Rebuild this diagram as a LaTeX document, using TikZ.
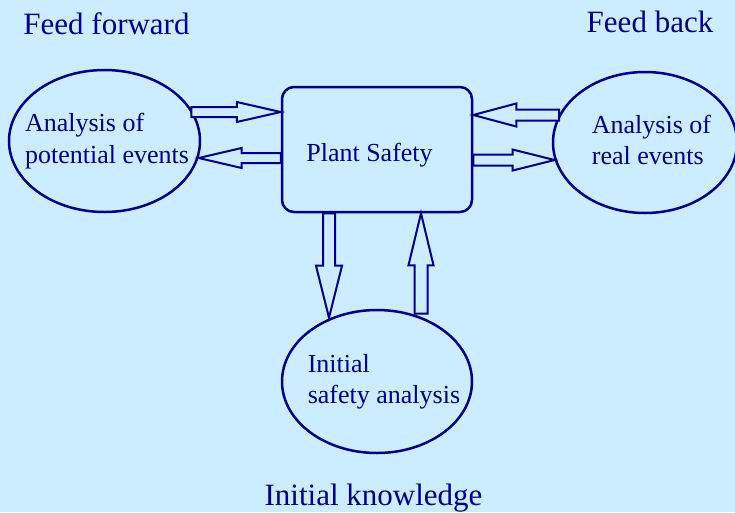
\documentclass[tikz,border=0pt]{standalone}
\usepackage{fontspec}
\setmainfont{Liberation Serif}
\usetikzlibrary{calc, shapes.geometric}
\definecolor{bgblue}{HTML}{CCECFF}
\definecolor{navy}{HTML}{000080}
\tikzset{
  plain/.style    = {draw=navy, line width=2.5pt, text=navy, inner sep=0pt,
                     font=\fontsize{26}{31.5}\selectfont},
  sbox/.style     = {plain, rectangle, rounded corners=12pt,
                     minimum width=190pt, minimum height=125pt},
  eventell/.style = {plain, ellipse, minimum width=191pt, minimum height=142pt},
  heading/.style  = {text=navy, inner sep=0pt, anchor=base,
                     font=\fontsize{31}{37}\selectfont},
  blockarr/.style = {draw=navy, fill=bgblue, line width=2pt, line join=miter},
}
% two left-aligned lines, kept out of the ellipse size
\newcommand{\evtext}[3][0pt]{\makebox[0pt]{\hspace*{#1}%
  \begin{tabular}{@{}l@{}}#2\\#3\end{tabular}}}
% hollow block arrow: from, to, shaft half width, head half width, head length
\newcommand{\blockarrow}[5]{%
  \path ($(#2)!#5!(#1)$) coordinate (hb);
  \draw[blockarr] ($(#1)!#3!90:(#2)$) -- ($(hb)!#3!90:(#2)$)
    -- ($(hb)!#4!90:(#2)$) -- (#2) -- ($(hb)!#4!-90:(#2)$)
    -- ($(hb)!#3!-90:(#2)$) -- ($(#1)!#3!-90:(#2)$) -- cycle;}

\begin{document}
\begin{tikzpicture}[x=1pt, y=-1pt]
  \fill[bgblue] (0,0) rectangle (735,512);
  \useasboundingbox (0,0) rectangle (735,512);

  % headings
  \node[heading] (ffwd)  at (106.5,34) {Feed forward};
  \node[heading] (fback) at (650,32)   {Feed back};
  \node[heading] (iknow) at (373.5,505) {Initial knowledge};

  % boxes
  \node[sbox, text height=23pt, text depth=0pt] (safety) at (377,149.5)
    {Plant Safety\hspace*{15pt}};
  \node[eventell] (potential) at (104.5,141)
    {\evtext[5pt]{Analysis of}{potential events}};
  \node[eventell, minimum width=184pt, minimum height=141pt] (real) at (645,142.5)
    {\evtext[13pt]{Analysis of}{real events}};
  \node[eventell, minimum width=190pt, minimum height=143pt] (initial) at (377,381.5)
    {\evtext[14pt]{Initial}{safety analysis}};

  % arrow ends
  \coordinate (a1t) at ($(safety.west)+(0,-37.5)$);
  \coordinate (a1s) at (potential.20 |- a1t);
  \coordinate (a2s) at ($(safety.west)+(0,8.5)$);
  \coordinate (a2t) at (potential.-10 |- a2s);
  \coordinate (a3t) at ($(safety.east)+(0,-34.5)$);
  \coordinate (a3s) at (real.162 |- a3t);
  \coordinate (a4s) at ($(safety.east)+(0,10.5)$);
  \coordinate (a4t) at (real.191 |- a4s);
  \coordinate (a5s) at ($(safety.south)+(-48,0)$);
  \coordinate (a5t) at (a5s |- initial.126);
  \coordinate (a6t) at ($(safety.south)+(44,0)$);
  \coordinate (a6b) at (a6t |- initial.54);
  \coordinate (a6s) at ($(a6b)+(0,-4)$);

  % arrows
  \blockarrow{a1s}{a1t}{5pt}{10pt}{44pt}
  \blockarrow{a2s}{a2t}{5pt}{10pt}{43pt}
  \blockarrow{a3s}{a3t}{5.5pt}{11.5pt}{43pt}
  \blockarrow{a4s}{a4t}{5.5pt}{10.5pt}{42pt}
  \blockarrow{a5s}{a5t}{6pt}{13pt}{52pt}
  \blockarrow{a6s}{a6t}{6.5pt}{12.5pt}{52pt}
\end{tikzpicture}
\end{document}
